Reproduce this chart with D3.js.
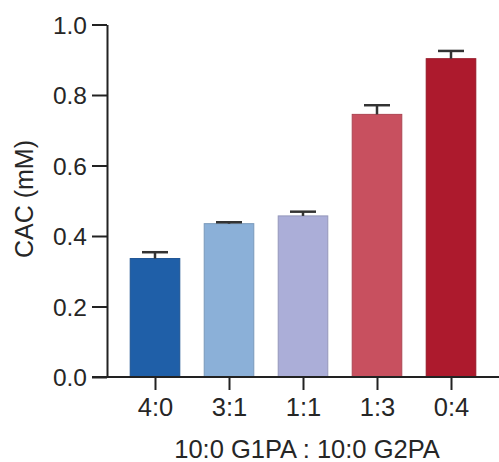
<!DOCTYPE html>
<html>
<head>
<meta charset="utf-8">
<script src="https://cdn.jsdelivr.net/npm/d3@7"></script>
<style>
  html, body { margin: 0; padding: 0; background: #fff; }
  svg { display: block; }
  text { font-family: "Liberation Sans", Arial, Helvetica, sans-serif; fill: #262626; }
</style>
</head>
<body>
<svg id="chart" width="499" height="462"></svg>
<script>
// Critical aggregation concentration for each G1PA:G2PA mixing ratio
const ratios = ["4:0", "3:1", "1:1", "1:3", "0:4"];
const cacValues = [0.336, 0.435, 0.457, 0.745, 0.903];
const cacErrors = [0.018, 0.004, 0.012, 0.026, 0.022];
const barColors = ["#1f5fa8", "#8bb0d8", "#abaed8", "#c8505f", "#ad1a2d"];
const yTicks = [0.0, 0.2, 0.4, 0.6, 0.8, 1.0];

const svg = d3.select("#chart");
const axisX = 107;         // position of the y axis line
const y0 = 377, y1 = 24.5; // pixel range of the value scale

const y = d3.scaleLinear().domain([0, 1]).range([y0, y1]);
const x = d3.scalePoint().domain(ratios).range([118, 488]).padding(0.5);
const barW = x.step() * 0.67;

// bars
svg.append("g").selectAll("rect")
  .data(ratios)
  .join("rect")
  .attr("x", d => x(d) - barW / 2)
  .attr("width", barW)
  .attr("y", (d, i) => y(cacValues[i]))
  .attr("height", (d, i) => y(0) - y(cacValues[i]))
  .attr("fill", (d, i) => barColors[i])
  .attr("stroke", (d, i) => d3.color(barColors[i]).darker(0.4))
  .attr("stroke-width", 1);

// error bars (upper half only)
const err = svg.append("g").attr("stroke", "#333").attr("stroke-width", 2.5);
ratios.forEach((d, i) => {
  const top = y(cacValues[i] + cacErrors[i]);
  err.append("line")
    .attr("x1", x(d)).attr("x2", x(d))
    .attr("y1", y(cacValues[i])).attr("y2", top);
  err.append("line")
    .attr("x1", x(d) - 13).attr("x2", x(d) + 13)
    .attr("y1", top).attr("y2", top);
});

// y axis
const yAxis = d3.axisLeft(y)
  .tickValues(yTicks)
  .tickFormat(d3.format(".1f"))
  .tickSize(15)
  .tickSizeOuter(0)
  .tickPadding(5);
const gy = svg.append("g").attr("transform", `translate(${axisX},0)`).call(yAxis);
gy.select(".domain").attr("stroke", "#222").attr("stroke-width", 2);
gy.selectAll(".tick line").attr("stroke", "#222").attr("stroke-width", 2);
gy.selectAll(".tick text")
  .attr("font-size", 24.5)
  .attr("font-family", "Liberation Sans, Arial, sans-serif")
  .attr("fill", "#262626")
  .attr("dy", "0.36em");

// x axis
const xAxis = d3.axisBottom(x).tickSize(13).tickSizeOuter(0).tickPadding(8);
const gx = svg.append("g").attr("transform", `translate(0,${y0})`).call(xAxis);
gx.select(".domain").attr("d", `M${axisX - 15},0H499`).attr("stroke", "#222").attr("stroke-width", 2);
gx.selectAll(".tick line").attr("stroke", "#222").attr("stroke-width", 2);
gx.selectAll(".tick text")
  .attr("font-size", 25.5)
  .attr("font-family", "Liberation Sans, Arial, sans-serif")
  .attr("fill", "#262626");

// axis titles
svg.append("text")
  .attr("x", (x(ratios[0]) + x(ratios[4])) / 2 + 4)
  .attr("y", 458)
  .attr("text-anchor", "middle")
  .attr("font-size", 25.5)
  .text("10:0 G1PA : 10:0 G2PA");

svg.append("text")
  .attr("transform", `translate(33,199) rotate(-90)`)
  .attr("text-anchor", "middle")
  .attr("font-size", 25)
  .text("CAC (mM)");
</script>
</body>
</html>
